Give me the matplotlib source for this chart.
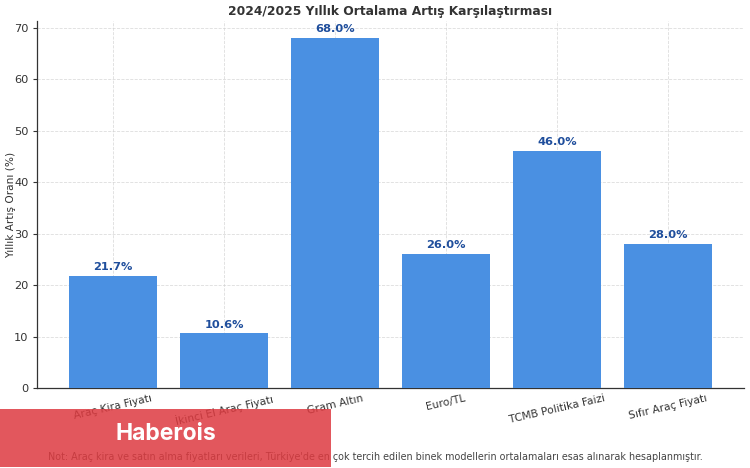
import matplotlib
matplotlib.use("Agg")
import matplotlib.pyplot as plt
from matplotlib.patches import Rectangle

categories = ["Araç Kira Fiyatı", "İkinci El Araç Fiyatı", "Gram Altın", "Euro/TL",
              "TCMB Politika Faizi", "Sıfır Araç Fiyatı"]
values = [21.7, 10.6, 68.0, 26.0, 46.0, 28.0]
yticks = [0, 10, 20, 30, 40, 50, 60, 70]
title = "2024/2025 Yıllık Ortalama Artış Karşılaştırması"
ylabel = "Yıllık Artış Oranı (%)"
note = "Not: Araç kira ve satın alma fiyatları verileri, Türkiye'de en çok tercih edilen binek modellerin ortalamaları esas alınarak hesaplanmıştır."
brand = "Haberois"

W, H = 750, 468
fig = plt.figure(figsize=(W / 100, H / 100), dpi=100)
ax = fig.add_axes([37 / W, 1 - 388 / H, (744 - 37) / W, (388 - 20.5) / H])

xs = list(range(len(categories)))
ax.bar(xs, values, width=0.8, color="#4a90e2", zorder=3)
ax.grid(True, color="#cfcfcf", linestyle="--", linewidth=0.6, alpha=0.7, zorder=4)
for x, v in zip(xs, values):
    ax.text(x, v + 0.75, f"{v:.1f}%", ha="center", va="bottom", fontsize=8.2,
            fontweight="bold", color="#1f4e9c", zorder=5)

ax.set_xlim(-0.685, 5.685)
ax.set_ylim(0, 71.4)
ax.set_yticks(yticks)
ax.set_xticks(xs)
ax.set_xticklabels(categories, rotation=13, ha="center", fontsize=7.7, color="#333333")
ax.tick_params(axis="y", labelsize=8.2, labelcolor="#333333", color="#333333", length=3, width=0.8, pad=3)
ax.tick_params(axis="x", color="#2a5a9a", direction="in", length=3, width=0.8, pad=3.5)
for s in ("top", "right"):
    ax.spines[s].set_visible(False)
for s in ("left", "bottom"):
    ax.spines[s].set_color("#333333")
    ax.spines[s].set_linewidth(0.9)

fig.text(11.5 / W, 1 - 205 / H, ylabel, ha="center", va="center", rotation=90,
         fontsize=7.6, color="#333333")
fig.text(390 / W, 1 - 11.5 / H, title, ha="center", va="center", fontsize=8.8,
         fontweight="bold", color="#333333")
fig.text(375 / W, 1 - 456.5 / H, note, ha="center", va="center", fontsize=6.9, color="#444444")

fig.add_artist(Rectangle((0, 1 - 467 / H), 331 / W, 58 / H, transform=fig.transFigure,
                         facecolor="#dd3a40", alpha=0.85, edgecolor="none", zorder=10))
fig.text(166 / W, 1 - 434 / H, brand, ha="center", va="center", fontsize=16.5,
         fontweight="bold", color="white", family="Inter", zorder=11)

fig.savefig("out.png", dpi=100)
